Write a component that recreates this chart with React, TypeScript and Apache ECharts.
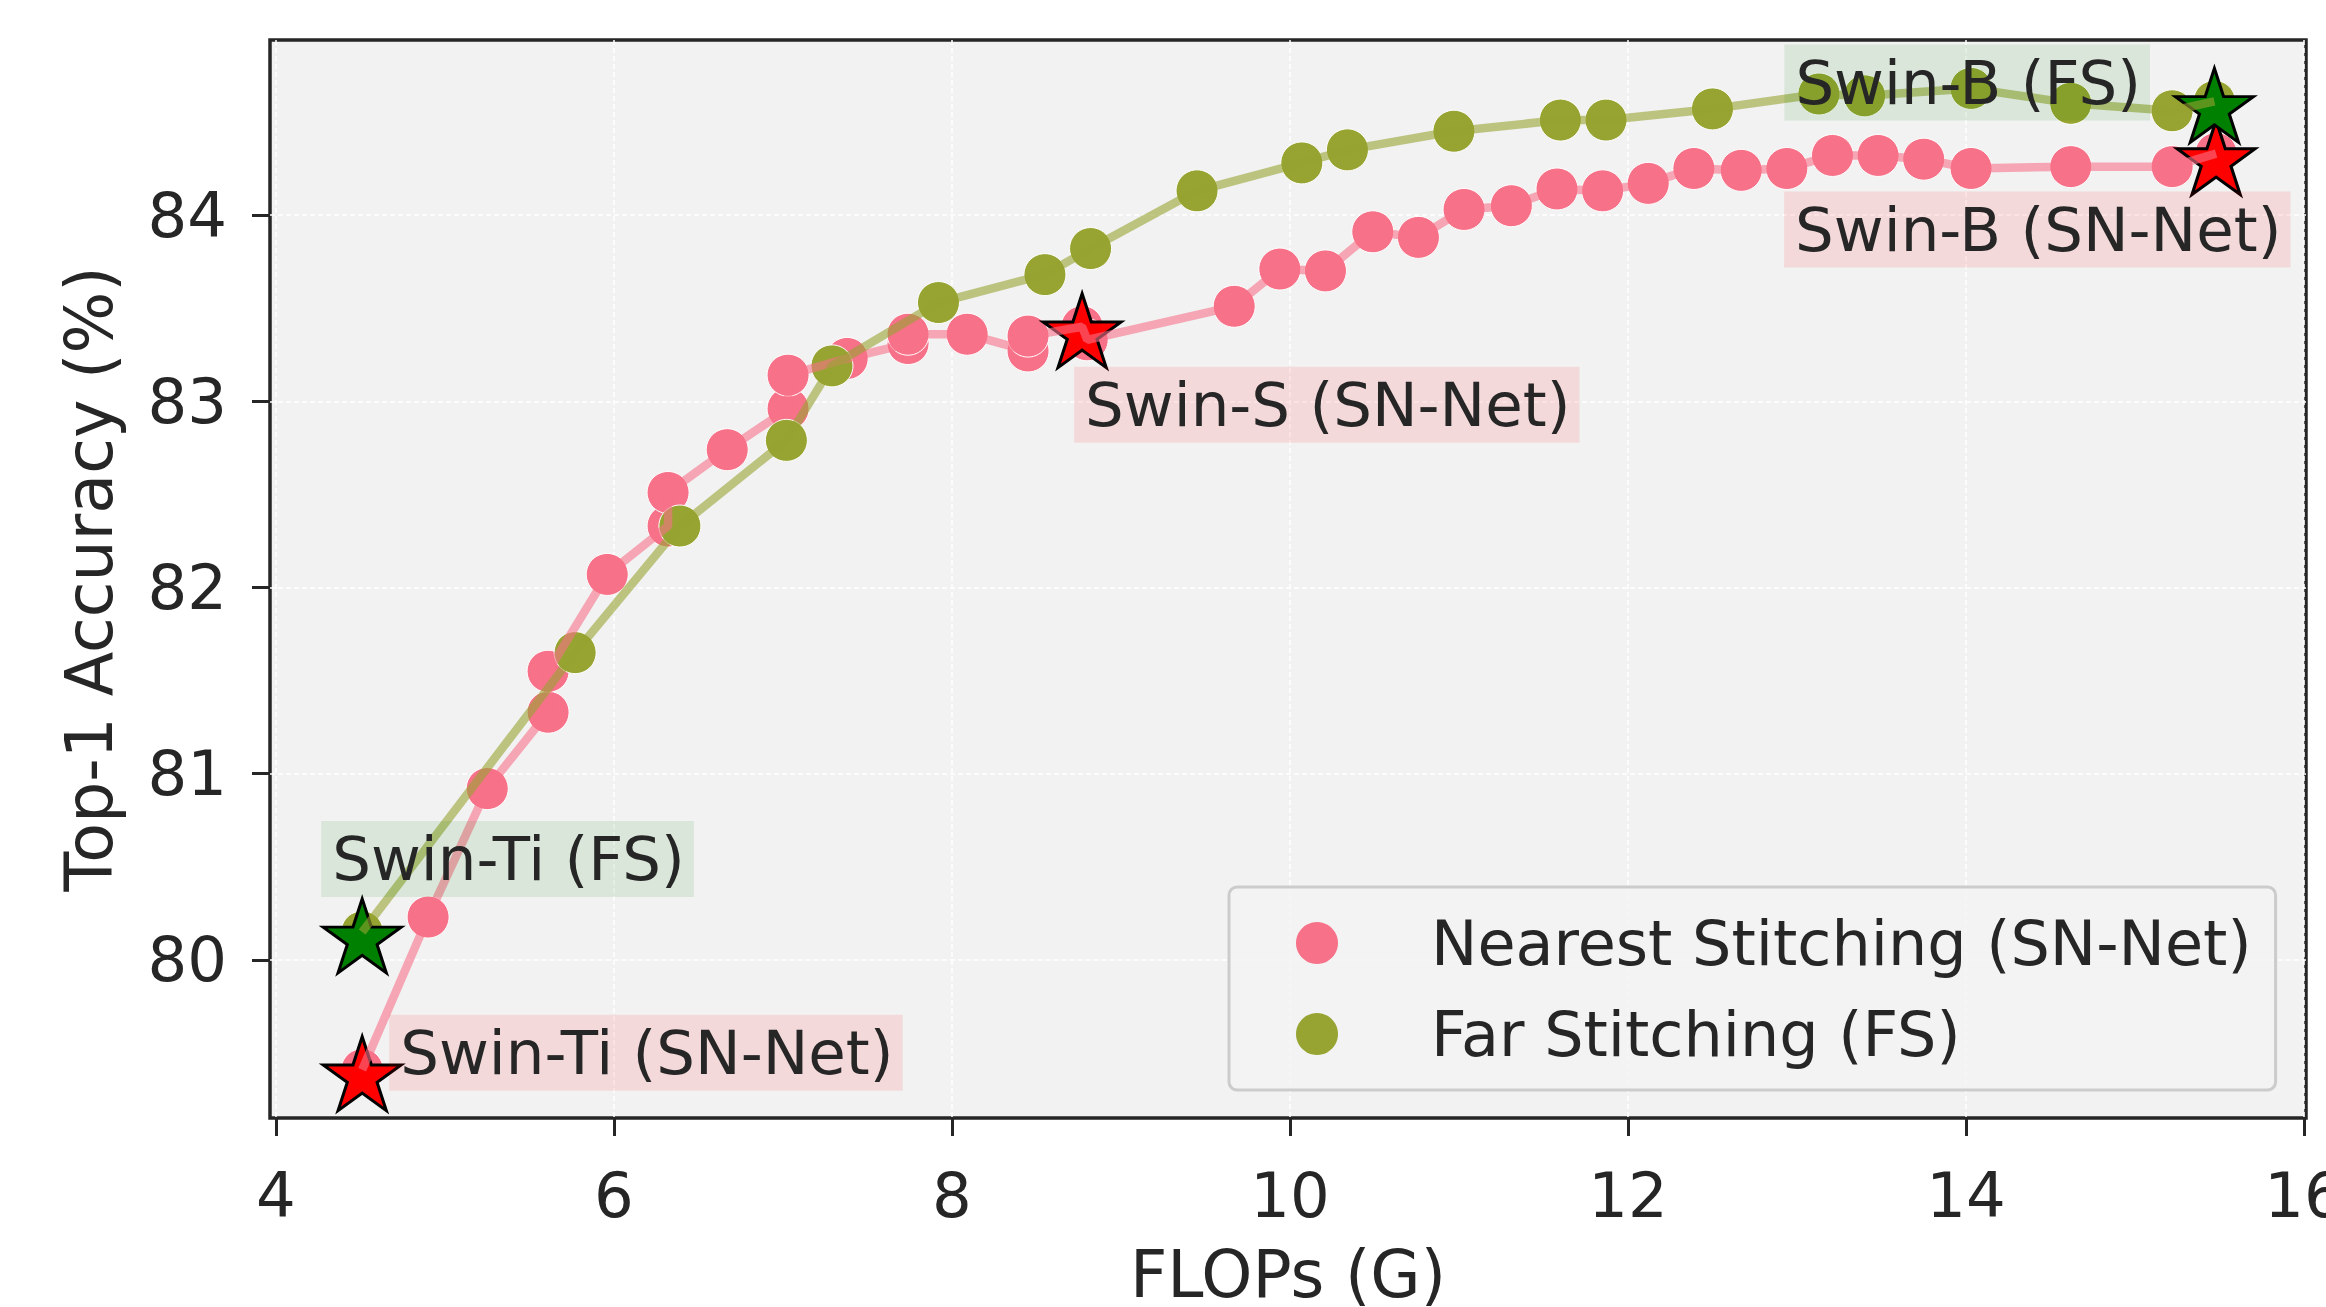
import React, { useEffect, useRef } from "react";
import * as echarts from "echarts";

// ---- data ----
const snFlops = [4.51, 4.9, 5.25, 5.61, 5.61, 5.96, 6.32, 6.32, 6.67, 7.03, 7.03, 7.38, 7.74, 7.74, 8.09, 8.45, 8.45, 8.77, 8.8, 9.67, 9.94, 10.21, 10.49, 10.76, 11.03, 11.31, 11.58, 11.85, 12.12, 12.39, 12.67, 12.94, 13.21, 13.48, 13.75, 14.03, 14.62, 15.22, 15.48];
const snAcc = [79.41, 80.23, 80.92, 81.33, 81.55, 82.07, 82.33, 82.51, 82.74, 82.96, 83.14, 83.23, 83.31, 83.36, 83.36, 83.27, 83.35, 83.4, 83.33, 83.51, 83.71, 83.7, 83.91, 83.88, 84.03, 84.05, 84.14, 84.13, 84.17, 84.25, 84.24, 84.25, 84.32, 84.32, 84.3, 84.25, 84.26, 84.26, 84.33];
const fsFlops = [4.51, 5.77, 6.39, 7.02, 7.29, 7.92, 8.55, 8.82, 9.45, 10.07, 10.34, 10.97, 11.6, 11.87, 12.5, 13.13, 13.4, 14.03, 14.62, 15.22, 15.47];
const fsAcc = [80.15, 81.65, 82.33, 82.79, 83.19, 83.53, 83.68, 83.82, 84.13, 84.28, 84.35, 84.45, 84.51, 84.51, 84.57, 84.65, 84.64, 84.68, 84.6, 84.56, 84.61];
const anchorNames = ["Swin-Ti (SN-Net)", "Swin-S (SN-Net)", "Swin-B (SN-Net)", "Swin-Ti (FS)", "Swin-B (FS)"];
const anchorFlops = [4.51, 8.77, 15.48, 4.51, 15.47];
const anchorAcc = [79.41, 83.4, 84.33, 80.15, 84.61];
const anchorKind = ["sn", "sn", "sn", "fs", "fs"];
const xTicks = [4, 6, 8, 10, 12, 14, 16];
const yTicks = [80, 81, 82, 83, 84];
const seriesNames = ["Nearest Stitching (SN-Net)", "Far Stitching (FS)"];
const xLabel = "FLOPs (G)";
const yLabel = "Top-1 Accuracy (%)";

// ---- styling ----
const FONT = "DejaVu Sans";
const TEXT = "#262626";
const PINK = "#f77189";
const GREEN = "#97a431";
const STAR_PATH =
  "path://M0,-100 L22.45,-30.9 L95.11,-30.9 L36.33,11.8 L58.78,80.9 L0,38.2 L-58.78,80.9 L-36.33,11.8 L-95.11,-30.9 L-22.45,-30.9 Z";
// label box top-left offset relative to anchor point (pixels)
const labelOffsets: Record<string, [number, number]> = {
  "Swin-Ti (SN-Net)": [27, -55],
  "Swin-S (SN-Net)": [-8, 40],
  "Swin-B (SN-Net)": [-432, 38],
  "Swin-Ti (FS)": [-41, -111],
  "Swin-B (FS)": [-430, -57],
};

export default function App() {
  const ref = useRef<HTMLDivElement>(null);
  useEffect(() => {
    if (!ref.current) return;
    document.body.style.margin = "0";
    document.body.style.overflow = "hidden";
    const chart = echarts.init(ref.current, undefined, { renderer: "svg" });
    const sn = snFlops.map((x, i) => [x, snAcc[i]]);
    const fs = fsFlops.map((x, i) => [x, fsAcc[i]]);
    const anchors = anchorNames.map((n, i) => ({
      name: n,
      value: [anchorFlops[i], anchorAcc[i]],
      itemStyle: { color: anchorKind[i] === "sn" ? "#ff0000" : "#008000" },
    }));
    const labelData = anchorNames.map((n, i) => ({
      name: n,
      value: [anchorFlops[i], anchorAcc[i]],
      label: {
        show: true,
        formatter: n,
        position: "inside",
        align: "left",
        verticalAlign: "top",
        offset: labelOffsets[n],
        fontFamily: FONT,
        fontSize: 61,
        lineHeight: 62,
        color: TEXT,
        opacity: 1,
        padding: [7, 9, 7, 11],
        backgroundColor: anchorKind[i] === "sn" ? "rgba(255,0,0,0.1)" : "rgba(0,128,0,0.1)",
      },
    }));
    chart.setOption({
      animation: false,
      textStyle: { fontFamily: FONT },
      grid: {
        left: 270,
        right: 20,
        top: 40,
        bottom: 189,
        outerBoundsMode: "none",
        containLabel: false,
        show: true,
        backgroundColor: "#f2f2f2",
        borderColor: TEXT,
        borderWidth: 3.5,
      },
      legend: {
        data: seriesNames,
        orient: "vertical",
        left: 1229,
        top: 887,
        padding: [25, 24, 25, 67],
        itemGap: 29,
        itemWidth: 42,
        itemHeight: 42,
        backgroundColor: "rgba(242,242,242,0.8)",
        borderColor: "#cccccc",
        borderWidth: 3,
        borderRadius: 8,
        itemStyle: { borderWidth: 0 },
        textStyle: {
          fontFamily: FONT,
          fontSize: 62,
          lineHeight: 62,
          color: TEXT,
          padding: [0, 0, 0, 88],
        },
      },
      xAxis: {
        type: "value",
        min: 3.9645,
        max: 16.012,
        name: xLabel,
        nameLocation: "middle",
        nameGap: 123,
        nameTextStyle: { fontFamily: FONT, fontSize: 65, color: TEXT, lineHeight: 66 },
        axisLine: { show: false },
        axisTick: { show: true, customValues: xTicks, length: 18, lineStyle: { color: TEXT, width: 3 } },
        axisLabel: { customValues: xTicks, fontFamily: FONT, fontSize: 62.5, color: TEXT, margin: 46 },
        splitLine: { show: true, lineStyle: { color: "#ffffff", width: 1.5, type: [5, 3] } },
      },
      yAxis: {
        type: "value",
        min: 79.151,
        max: 84.94,
        name: yLabel,
        nameLocation: "middle",
        nameGap: 148,
        nameTextStyle: { fontFamily: FONT, fontSize: 65, color: TEXT, lineHeight: 66 },
        axisLine: { show: false },
        axisTick: { show: true, customValues: yTicks, length: 18, lineStyle: { color: TEXT, width: 3 } },
        axisLabel: { customValues: yTicks, fontFamily: FONT, fontSize: 62.5, color: TEXT, margin: 43 },
        splitLine: { show: true, lineStyle: { color: "#ffffff", width: 1.5, type: [5, 3] } },
      },
      series: [
        {
          name: seriesNames[0],
          type: "scatter",
          data: sn,
          symbol: "circle",
          symbolSize: 42,
          itemStyle: { color: PINK, borderColor: "#ffffff", borderWidth: 1, opacity: 1 },
          z: 2,
          silent: true,
        },
        {
          name: seriesNames[1],
          type: "scatter",
          data: fs,
          symbol: "circle",
          symbolSize: 42,
          itemStyle: { color: GREEN, borderColor: "#ffffff", borderWidth: 1, opacity: 1 },
          z: 2,
          silent: true,
        },
        {
          name: "anchors",
          type: "scatter",
          data: anchors,
          symbol: STAR_PATH,
          symbolSize: [78, 74],
          symbolOffset: [0, 3.9],
          itemStyle: { borderColor: "#000000", borderWidth: 3, opacity: 1 },
          z: 3,
          silent: true,
        },
        {
          name: "sn-line",
          type: "line",
          data: sn,
          symbol: "none",
          showSymbol: false,
          lineStyle: { color: PINK, width: 8.5, opacity: 0.6 },
          z: 4,
          silent: true,
        },
        {
          name: "fs-line",
          type: "line",
          data: fs,
          symbol: "none",
          showSymbol: false,
          lineStyle: { color: GREEN, width: 8.5, opacity: 0.6 },
          z: 4,
          silent: true,
        },
        {
          name: "anchor-labels",
          type: "scatter",
          data: labelData,
          symbol: "circle",
          symbolSize: 1,
          itemStyle: { color: "rgba(0,0,0,0)", opacity: 1 },
          z: 6,
          silent: true,
        },
      ],
    });
    return () => chart.dispose();
  }, []);
  return (
    <div
      ref={ref}
      style={{ position: "fixed", left: 0, top: 0, width: 2326, height: 1307 }}
    />
  );
}
